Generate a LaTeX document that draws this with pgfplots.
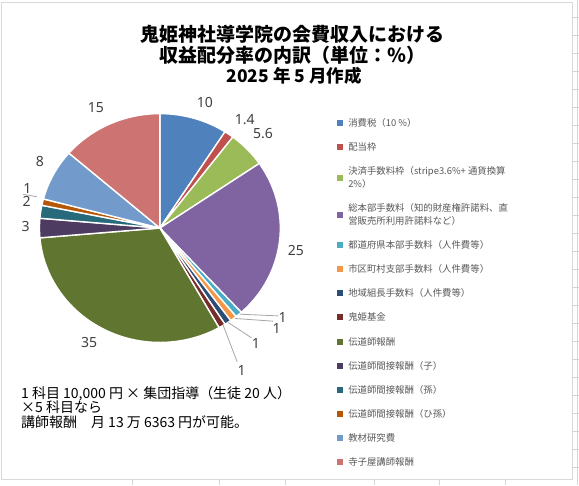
\documentclass[border=0pt]{standalone}
\usepackage{fontspec}
\setmainfont{Noto Sans CJK JP}
\newfontfamily\labfont{Noto Sans}
\usepackage{pgfplots}
\usepackage{pgfplotstable}
\pgfplotsset{compat=1.18}

\definecolor{pie0}{HTML}{4F81BD}
\definecolor{pie1}{HTML}{C0504D}
\definecolor{pie2}{HTML}{9BBB59}
\definecolor{pie3}{HTML}{8064A2}
\definecolor{pie4}{HTML}{4BACC6}
\definecolor{pie5}{HTML}{F79646}
\definecolor{pie6}{HTML}{2C4D75}
\definecolor{pie7}{HTML}{772C2A}
\definecolor{pie8}{HTML}{5F7530}
\definecolor{pie9}{HTML}{4D3B62}
\definecolor{pie10}{HTML}{276A7C}
\definecolor{pie11}{HTML}{B65708}
\definecolor{pie12}{HTML}{729ACA}
\definecolor{pie13}{HTML}{CD7371}
\definecolor{lgray}{HTML}{595959}
\definecolor{dgray}{HTML}{404040}
\definecolor{grid}{HTML}{D4D4D4}
\definecolor{frame}{HTML}{D9D9D9}
\definecolor{leader}{HTML}{A6A6A6}

% shares of the membership fee (unit: %)
\pgfplotstableread{
val
10
1.4
5.6
25
1
1
1
1
35
3
2
1
8
15
}\piedata

\newcommand\lstrut{\rule[-2bp]{0pt}{10.5bp}}

\begin{document}
\begin{tikzpicture}
\begin{axis}[
  width=579bp, height=485bp, scale only axis,
  xmin=0, xmax=579, ymin=0, ymax=485,
  hide axis, clip=false,
  legend image code/.code={\fill[#1, draw=none] (0bp,-3bp) rectangle (6bp,3bp);},
  legend style={at={(axis cs:337,367)}, anchor=north west, draw=none, fill=none,
    inner sep=0pt, outer sep=0pt, row sep=14.1bp, column sep=5.5bp,
    font=\fontsize{9.4bp}{12.8bp}\selectfont,
    nodes={inner sep=0pt, align=left, text=lgray}},
  legend cell align=left,
]
% background, frame and spreadsheet grid
\fill[white] (axis cs:0,0) rectangle (axis cs:579,485);
\draw[grid, line width=0.8bp] (axis cs:577.5,0) -- (axis cs:577.5,485);
\pgfplotsinvokeforeach{0,...,25}{
  \draw[grid, line width=0.8bp] (axis cs:573,{485-16.7-18.04*#1}) -- (axis cs:579,{485-16.7-18.04*#1});
}
\pgfplotsinvokeforeach{132,220,286,374.6,440,506}{
  \draw[grid, line width=0.8bp] (axis cs:#1,0) -- (axis cs:#1,6);
}
\draw[frame, line width=0.8bp] (axis cs:1,483) rectangle (axis cs:573,5.5);

% pie slices
\def\cx{160}\def\cy{257.2}\def\rx{120.5}\def\ry{114.5}
\def\total{0}
\pgfplotsforeachungrouped \i in {0,...,13}{%
  \pgfplotstablegetelem{\i}{val}\of\piedata
  \pgfmathsetmacro\total{\total+\pgfplotsretval}%
}
\pgfmathsetmacro\degper{360/\total}
\def\cum{0}
\pgfplotsforeachungrouped \i in {0,...,13}{%
  \pgfplotstablegetelem{\i}{val}\of\piedata
  \pgfmathsetmacro\aS{90-\degper*\cum}%
  \pgfmathsetmacro\cum{\cum+\pgfplotsretval}%
  \pgfmathsetmacro\aE{90-\degper*\cum}%
  \edef\doslice{\noexpand\addplot[fill=pie\i, draw=white, line width=1.4bp,
    line join=round, domain=\aE:\aS, samples=60]
    ({\cx+\rx*cos(x)},{\cy+\ry*sin(x)}) -- (axis cs:\cx,\cy) -- cycle;}%
  \doslice
}

\legend{
  {\lstrut 消費税（10 \%）},
  {\lstrut 配当枠},
  {\lstrut 決済手数料枠（stripe3.6\%+ 通貨換算\\\lstrut 2\%）},
  {\lstrut 総本部手数料（知的財産権許諾料、直\\\lstrut 営販売所利用許諾料など）},
  {\lstrut 都道府県本部手数料（人件費等）},
  {\lstrut 市区町村支部手数料（人件費等）},
  {\lstrut 地域組長手数料（人件費等）},
  {\lstrut 鬼姫基金},
  {\lstrut 伝道師報酬},
  {\lstrut 伝道師間接報酬（子）},
  {\lstrut 伝道師間接報酬（孫）},
  {\lstrut 伝道師間接報酬（ひ孫）},
  {\lstrut 教材研究費},
  {\lstrut 寺子屋講師報酬}
}

% leader lines
\draw[leader, line width=0.8bp] (axis cs:240,171) -- (axis cs:278.3,169.3);
\draw[leader, line width=0.8bp] (axis cs:235,166.7) -- (axis cs:273.3,164);
\draw[leader, line width=0.8bp] (axis cs:228.3,162.7) -- (axis cs:251.7,147.3);
\draw[leader, line width=0.8bp] (axis cs:223.3,160) -- (axis cs:237.3,123.3);
\draw[leader, line width=0.8bp] (axis cs:23,291) -- (axis cs:37,288.5);

% data labels
\begin{scope}[every node/.style={font=\labfont\fontsize{14bp}{14bp}\selectfont, text=dgray, inner sep=0pt}]
\node at (axis cs:205,383.3) {10};
\node at (axis cs:245,365.7) {1.4};
\node at (axis cs:263.3,351.7) {5.6};
\node at (axis cs:296,235) {25};
\node at (axis cs:282.7,167.3) {1};
\node at (axis cs:276.7,156.7) {1};
\node at (axis cs:256,141.7) {1};
\node at (axis cs:241.7,115) {1};
\node at (axis cs:89.3,142.3) {35};
\node at (axis cs:25.7,258.3) {3};
\node at (axis cs:26.7,284) {2};
\node at (axis cs:27.3,297) {1};
\node at (axis cs:40,324) {8};
\node at (axis cs:96,377.7) {15};
\end{scope}

% title
\node[anchor=base, inner sep=0pt, font=\bfseries\fontsize{19bp}{19bp}\selectfont] at (axis cs:293,444) {鬼姫神社導学院の会費収入における};
\node[anchor=base, inner sep=0pt, font=\bfseries\fontsize{19bp}{19bp}\selectfont] at (axis cs:293,423) {収益配分率の内訳（単位：％）};
\node[anchor=base, inner sep=0pt, font=\bfseries\fontsize{17.5bp}{17.5bp}\selectfont] at (axis cs:294.5,403.2) {2025 年 5 月作成};

% note
\node[anchor=base west, inner sep=0pt, align=left, font=\fontsize{14bp}{14.5bp}\selectfont] at (axis cs:21,57.7)
  {1 科目 10,000 円 × 集団指導（生徒 20 人）\\×5 科目なら\\講師報酬　月 13 万 6363 円が可能。};
\end{axis}
\end{tikzpicture}
\end{document}
